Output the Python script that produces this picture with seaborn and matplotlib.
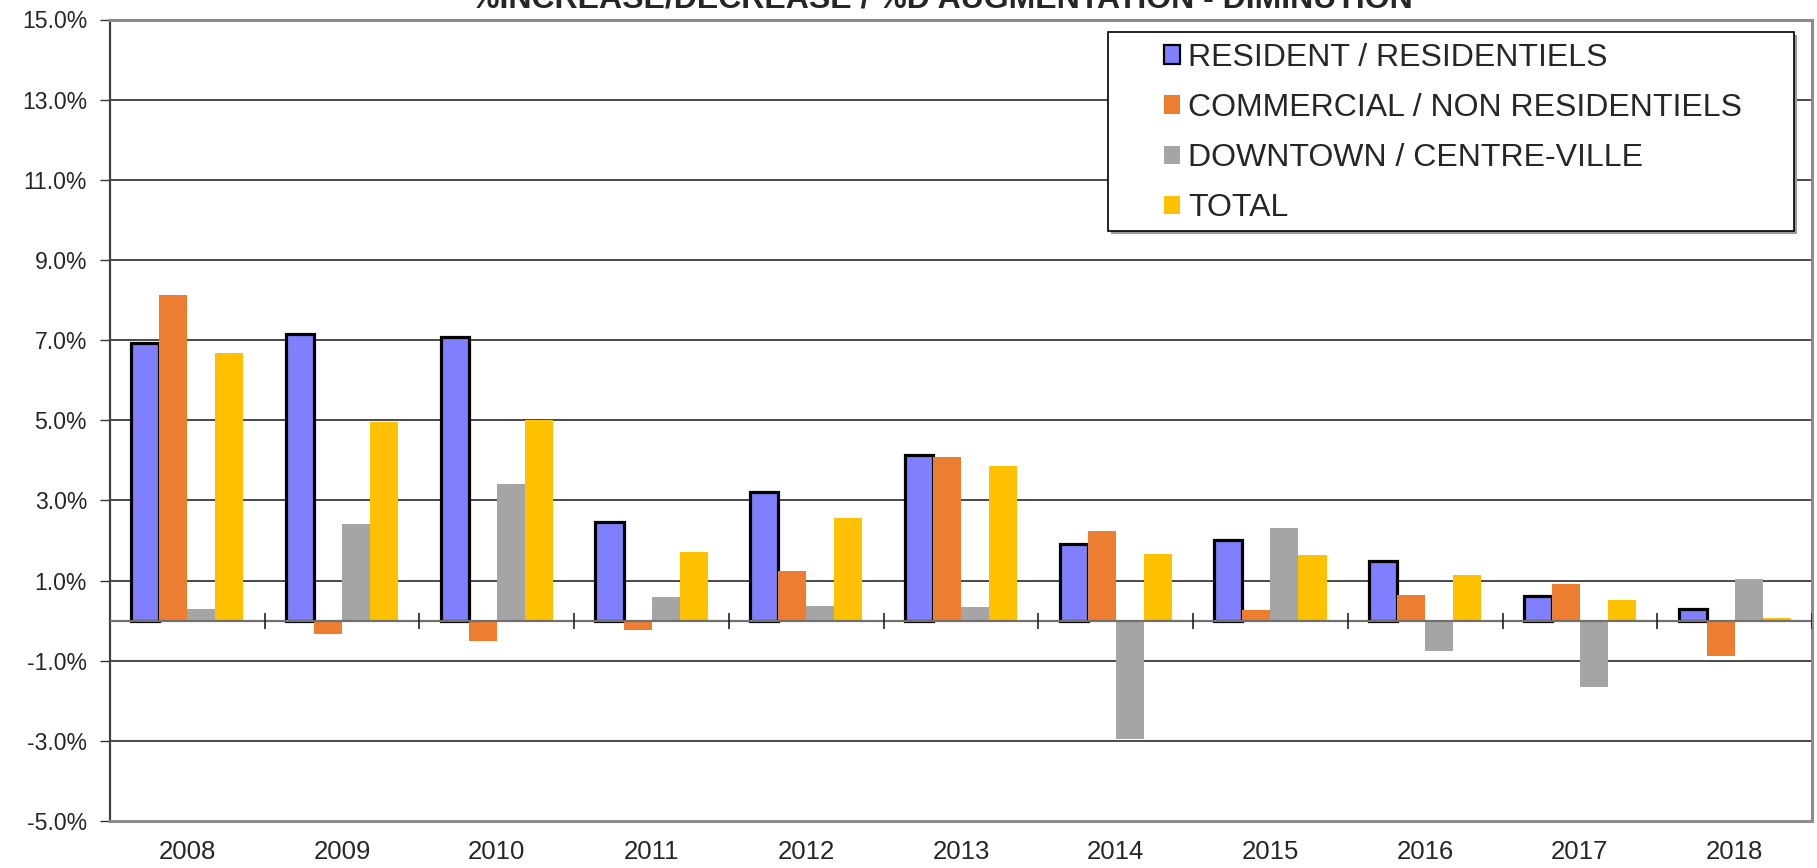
import numpy as np
import pandas as pd
import matplotlib
matplotlib.use("Agg")
import matplotlib.pyplot as plt
from matplotlib.patches import Patch, Rectangle
import seaborn as sns

# ---- data ----
years = ["2008", "2009", "2010", "2011", "2012", "2013", "2014", "2015", "2016", "2017", "2018"]
series_names = ["RESIDENT / RESIDENTIELS", "COMMERCIAL / NON RESIDENTIELS",
                "DOWNTOWN / CENTRE-VILLE", "TOTAL"]
resident = [6.92, 7.15, 7.07, 2.46, 3.22, 4.13, 1.92, 2.02, 1.48, 0.62, 0.30]
commercial = [8.12, -0.34, -0.52, -0.23, 1.25, 4.08, 2.24, 0.27, 0.64, 0.91, -0.89]
downtown = [0.28, 2.40, 3.41, 0.59, 0.37, 0.34, -2.95, 2.31, -0.76, -1.65, 1.05]
total = [6.67, 4.96, 5.00, 1.72, 2.57, 3.86, 1.66, 1.65, 1.15, 0.52, 0.07]
y_ticks = [-5, -3, -1, 1, 3, 5, 7, 9, 11, 13, 15]
title = "%INCREASE/DECREASE / %D AUGMENTATION - DIMINUTION"

colors = ["#8080FF", "#ED7D31", "#A5A5A5", "#FFC000"]

rows = []
for name, vals in zip(series_names, [resident, commercial, downtown, total]):
    for yr, v in zip(years, vals):
        rows.append({"year": yr, "series": name, "value": v})
df = pd.DataFrame(rows)

sns.set_style("white")
plt.rcParams["font.family"] = ["Liberation Sans", "DejaVu Sans"]

fig = plt.figure(figsize=(18.17, 8.68), dpi=100)
ax = fig.add_axes([110 / 1817, 47 / 868, 1702 / 1817, 801.5 / 868])

sns.barplot(data=df, x="year", y="value", hue="series", order=years,
            hue_order=series_names, palette=dict(zip(series_names, colors)),
            width=0.725, saturation=1, errorbar=None, linewidth=0,
            legend=False, ax=ax, zorder=3)

for p in ax.containers[0]:
    p.set_edgecolor("black")
    p.set_linewidth(2.3)

ax.set_xlim(-0.5, len(years) - 0.5)
ax.set_ylim(y_ticks[0], y_ticks[-1])
ax.set_yticks(y_ticks)
ax.set_yticklabels([f"{t:.1f}%" for t in y_ticks], fontsize=16.6)
ax.tick_params(axis="y", direction="out", length=7, width=1, color="#333333", pad=9.5, left=True)
ax.tick_params(axis="x", length=0, pad=14, labelsize=18.5)
ax.set_xlabel("")
ax.set_ylabel("")

ax.set_axisbelow(True)
ax.yaxis.grid(True, color="#2a2a2a", linewidth=1.2)
ax.xaxis.grid(False)

# zero line with category-boundary ticks
ax.axhline(0, color="#707070", linewidth=1.6, zorder=4)
ax.vlines(np.arange(len(years)) + 0.5, -0.2, 0.2, color="#222222", linewidth=1.2, zorder=4)

for side in ["top", "right", "bottom"]:
    ax.spines[side].set_color("#8c8c8c")
    ax.spines[side].set_linewidth(2.2)
ax.spines["left"].set_color("#404040")
ax.spines["left"].set_linewidth(1.6)

# legend box with shadow
bx0, by0, bw, bh = 0.5864, 0.7361, 0.4030, 0.2483
ax.add_patch(Rectangle((bx0 + 0.002, by0 - 0.004), bw, bh, transform=ax.transAxes,
                       facecolor="#9a9a9a", edgecolor="none", zorder=6, clip_on=False))
ax.add_patch(Rectangle((bx0, by0), bw, bh, transform=ax.transAxes,
                       facecolor="white", edgecolor="black", linewidth=1.2, zorder=7, clip_on=False))

handles = [Patch(facecolor=colors[0], edgecolor="black", linewidth=1.6)] + \
          [Patch(facecolor=c, edgecolor="none") for c in colors[1:]]
leg = ax.legend(handles, series_names, loc="upper left", bbox_to_anchor=(0.6193, 0.971),
                frameon=False, fontsize=23, handlelength=0.5, handleheight=0.5,
                handletextpad=0.25, labelspacing=0.63, borderpad=0, borderaxespad=0)
leg.set_zorder(8)

fig.text(942 / 1817, 1 - 8 / 868, title, ha="center", va="baseline",
         fontsize=23, fontweight="bold")

fig.savefig("out.png", dpi=100)
